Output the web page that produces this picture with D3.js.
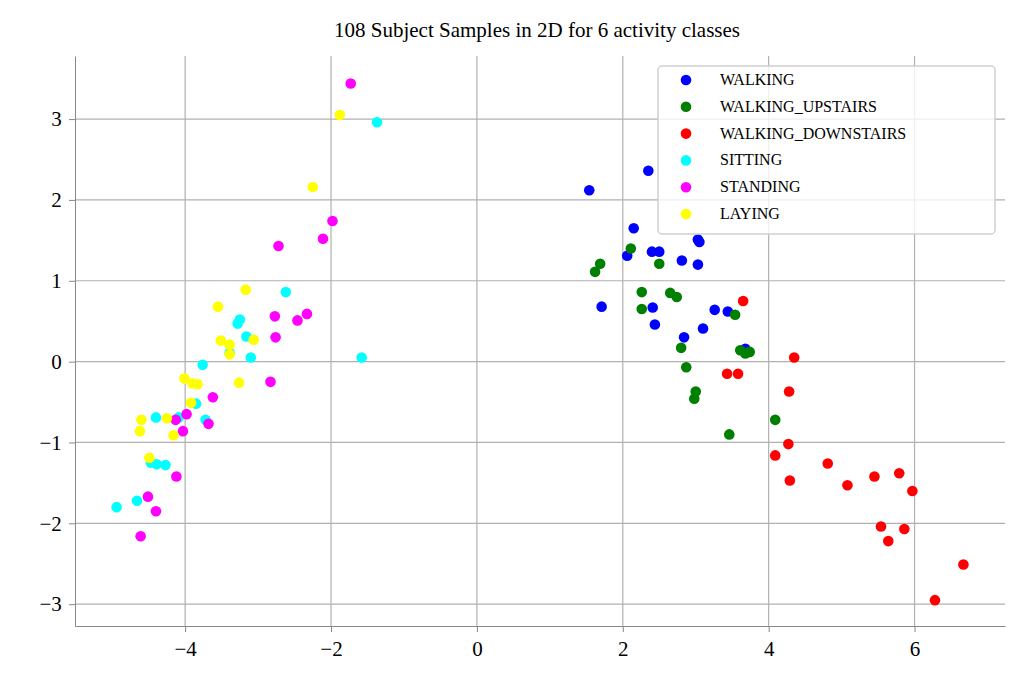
<!DOCTYPE html>
<html><head><meta charset="utf-8">
<script src="https://cdn.jsdelivr.net/npm/d3@7"></script>
<style>body{margin:0;background:#fff}text{font-family:"Liberation Serif",serif}</style>
</head><body><svg id="c" width="1024" height="690"></svg>
<script>
var classes = ["WALKING","WALKING_UPSTAIRS","WALKING_DOWNSTAIRS","SITTING","STANDING","LAYING"];
var colors = ["blue","green","red","cyan","magenta","yellow"];
var walkX = [1.54,2.35,2.15,2.06,2.40,2.50,2.81,3.03,3.05,3.03,1.71,2.41,2.44,2.84,3.26,3.44,3.68,3.10];
var walkY = [2.12,2.36,1.65,1.31,1.36,1.36,1.25,1.51,1.48,1.20,0.68,0.67,0.46,0.30,0.64,0.62,0.16,0.41];
var upX = [2.11,1.69,1.62,2.50,2.26,2.26,2.65,2.74,3.54,2.80,2.87,3.00,2.98,3.61,3.68,3.74,4.09,3.46];
var upY = [1.40,1.21,1.11,1.21,0.86,0.65,0.85,0.80,0.58,0.17,-0.07,-0.37,-0.46,0.14,0.10,0.12,-0.72,-0.90];
var downX = [3.65,4.35,3.43,3.58,4.28,4.27,4.09,4.29,4.81,5.08,5.45,5.79,5.97,5.54,5.64,5.86,6.28,6.67];
var downY = [0.75,0.05,-0.15,-0.15,-0.37,-1.02,-1.16,-1.47,-1.26,-1.53,-1.42,-1.38,-1.60,-2.04,-2.22,-2.07,-2.95,-2.51];
var sitX = [-1.37,-2.62,-3.25,-3.28,-3.16,-3.10,-1.58,-3.76,-3.85,-4.40,-4.09,-3.72,-4.47,-4.39,-4.27,-4.66,-4.94,-3.39];
var sitY = [2.96,0.86,0.52,0.47,0.31,0.05,0.05,-0.04,-0.52,-0.69,-0.69,-0.72,-1.25,-1.27,-1.28,-1.72,-1.80,0.11];
var standX = [-1.73,-1.98,-2.11,-2.72,-2.77,-2.46,-2.33,-2.76,-2.83,-3.62,-4.13,-3.98,-3.68,-4.03,-4.12,-4.51,-4.40,-4.61];
var standY = [3.44,1.74,1.52,1.43,0.56,0.51,0.59,0.30,-0.25,-0.44,-0.72,-0.65,-0.77,-0.86,-1.42,-1.67,-1.85,-2.16];
var layX = [-1.88,-2.25,-3.17,-3.55,-3.51,-3.39,-3.06,-3.39,-4.01,-3.90,-3.83,-3.26,-3.92,-4.60,-4.25,-4.62,-4.16,-4.49];
var layY = [3.05,2.16,0.89,0.68,0.26,0.21,0.27,0.09,-0.21,-0.27,-0.28,-0.26,-0.51,-0.72,-0.70,-0.86,-0.91,-1.19];
var xTicks = [-4,-2,0,2,4,6];
var yTicks = [-3,-2,-1,0,1,2,3];

var seriesX = [walkX,upX,downX,sitX,standX,layX];
var seriesY = [walkY,upY,downY,sitY,standY,layY];

var svg = d3.select("#c");
var L = 75, R = 1005, T = 56, B = 626;
var x = d3.scaleLinear().domain([-5.51, 7.24]).range([L, R]);
var y = d3.scaleLinear().domain([-3.27, 3.78]).range([B, T]);

// grid
svg.append("g").selectAll("line").data(xTicks).join("line")
  .attr("x1", d => x(d)).attr("x2", d => x(d)).attr("y1", T).attr("y2", B)
  .attr("stroke", "#b0b0b0").attr("stroke-width", 1.2);
svg.append("g").selectAll("line").data(yTicks).join("line")
  .attr("x1", L).attr("x2", R).attr("y1", d => y(d)).attr("y2", d => y(d))
  .attr("stroke", "#b0b0b0").attr("stroke-width", 1.2);

// axes
var fmt = d => d < 0 ? "\u2212" + (-d) : d;
var xa = svg.append("g").attr("transform", "translate(0," + B + ")")
  .call(d3.axisBottom(x).tickValues(xTicks).tickSizeInner(6).tickSizeOuter(0).tickFormat(fmt));
var ya = svg.append("g").attr("transform", "translate(" + L + ",0)")
  .call(d3.axisLeft(y).tickValues(yTicks).tickSizeInner(6).tickSizeOuter(0).tickFormat(fmt));
[xa, ya].forEach(a => {
  a.select(".domain").attr("stroke", "#888");
  a.selectAll(".tick line").attr("stroke", "#888");
  a.selectAll(".tick text").attr("font-size", 21).attr("fill", "#000")
    .attr("font-family", "Liberation Serif");
});
xa.selectAll(".tick text").attr("dy", "1.0em");
ya.selectAll(".tick text").attr("dx", "-0.2em");

// points
seriesX.forEach((xs, i) => {
  svg.append("g").selectAll("circle").data(xs).join("circle")
    .attr("cx", d => x(d)).attr("cy", (d, j) => y(seriesY[i][j]))
    .attr("r", 5.3).attr("fill", colors[i]);
});

// title
svg.append("text").attr("x", 537).attr("y", 37).attr("text-anchor", "middle")
  .attr("font-size", 21).text("108 Subject Samples in 2D for 6 activity classes");

// legend
var lg = svg.append("g");
lg.append("rect").attr("x", 658).attr("y", 66).attr("width", 337).attr("height", 168)
  .attr("rx", 4).attr("fill", "white").attr("fill-opacity", 0.8)
  .attr("stroke", "#d0d0d0").attr("stroke-width", 1.5);
classes.forEach((c, i) => {
  var yy = 80 + i * 26.8;
  lg.append("circle").attr("cx", 686).attr("cy", yy).attr("r", 5.3).attr("fill", colors[i]);
  lg.append("text").attr("x", 720).attr("y", yy + 5).attr("font-size", 16).text(c);
});
</script></body></html>
